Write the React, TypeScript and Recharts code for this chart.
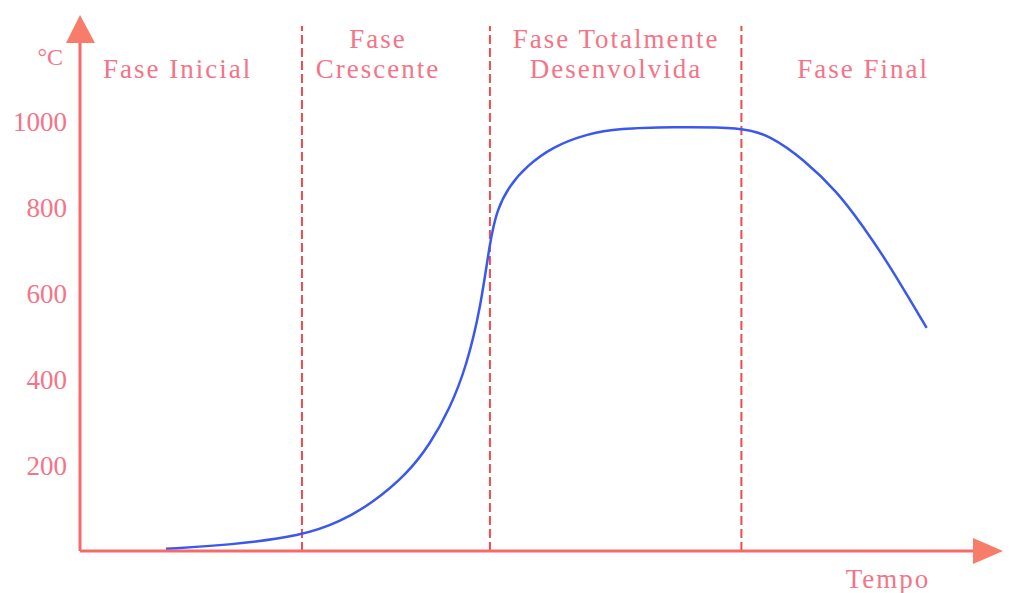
import {
  Line,
  LineChart,
  ReferenceDot,
  ReferenceLine,
  XAxis,
  YAxis,
} from "recharts";

// tempo (arbitrary units 0..100) and temperature (°C)
const tempo = [9.6, 16.8, 24.8, 29.1, 32.7, 36.5, 39.1, 41.3, 43.2, 44.8, 45.8, 46.6, 48.0, 49.9, 52.8, 56.6, 60.3, 66.0, 74.0, 77.1, 80.8, 84.6, 87.5, 90.2, 92.4, 94.6];
const temperatura = [5, 14, 35, 68, 112, 178, 248, 330, 430, 570, 720, 795, 850, 895, 940, 970, 983, 986, 986, 966, 912, 836, 755, 672, 596, 519];

const yTicks = [200, 400, 600, 800, 1000];
const phaseBounds = [24.8, 45.8, 73.9];
const phaseNames = [["Fase Inicial"], ["Fase", "Crescente"], ["Fase Totalmente", "Desenvolvida"], ["Fase Final"]];
const phaseCenters = [10.9, 33.3, 59.9, 87.5];

const Y_TOP = 1221;
const ARROW_BASE = 1177;
const X_MAX = 100;

const AXIS = "#f86a6a";
const ARROW = "#f87c6a";
const TEXT = "#f47488";
const FONT = "'Liberation Serif', 'Times New Roman', serif";

const data = tempo.map((t, i) => ({ t, c: temperatura[i] }));

function PhaseLabel(props: any) {
  const { cx, cy, lines } = props;
  const baselines = lines.length === 1 ? [cy + 33] : [cy + 3, cy + 33];
  return (
    <text x={cx} textAnchor="middle" fill={TEXT} fontSize={27} fontFamily={FONT} letterSpacing={2}>
      {lines.map((l: string, i: number) => (
        <tspan key={i} x={cx} y={baselines[i]}>
          {l}
        </tspan>
      ))}
    </text>
  );
}

function UpArrow(props: any) {
  const { cx, cy } = props;
  return (
    <g>
      <polygon points={`${cx - 14},${cy - 2} ${cx + 15},${cy - 2} ${cx},${cy - 30}`} fill={ARROW} />
      <text x={cx - 17} y={cy + 20} textAnchor="end" fill={TEXT} fontSize={24} fontFamily={FONT}>
        °C
      </text>
    </g>
  );
}

function RightArrow(props: any) {
  const { cx, cy } = props;
  return (
    <g>
      <polygon points={`${cx - 2},${cy - 13} ${cx - 2},${cy + 13} ${cx + 28},${cy}`} fill={ARROW} />
      <text x={cx - 87} y={cy + 37} textAnchor="middle" fill={TEXT} fontSize={27} fontFamily={FONT} letterSpacing={2}>
        Tempo
      </text>
    </g>
  );
}

export default function App() {
  return (
    <div style={{ position: "fixed", left: 0, top: 0, width: 1021, height: 593, background: "#fff" }}>
      <LineChart width={1021} height={593} data={data} margin={{ top: 26, right: 46, left: 0, bottom: 0 }}>
        <XAxis
          type="number"
          dataKey="t"
          domain={[0, X_MAX]}
          tick={false}
          tickLine={false}
          axisLine={{ stroke: AXIS, strokeWidth: 3 }}
          height={42}
          allowDataOverflow
        />
        <YAxis
          type="number"
          domain={[0, Y_TOP]}
          ticks={yTicks}
          tickLine={false}
          tickSize={0}
          tickMargin={13}
          width={80}
          axisLine={{ stroke: AXIS, strokeWidth: 3 }}
          tick={{ fill: TEXT, fontSize: 27, fontFamily: FONT }}
          allowDataOverflow
        />
        {phaseBounds.map((b) => (
          <ReferenceLine key={b} x={b} stroke="#f04a4a" strokeWidth={2} strokeDasharray="9 4" />
        ))}
        {phaseNames.map((lines, i) => (
          <ReferenceDot
            key={i}
            x={phaseCenters[i]}
            y={ARROW_BASE}
            ifOverflow="visible"
            shape={(p: any) => <PhaseLabel {...p} lines={lines} />}
          />
        ))}
        <ReferenceDot x={0} y={ARROW_BASE} ifOverflow="visible" shape={(p: any) => <UpArrow {...p} />} />
        <ReferenceDot x={X_MAX} y={0} ifOverflow="visible" shape={(p: any) => <RightArrow {...p} />} />
        <Line
          type="basis"
          dataKey="c"
          stroke="#3a58ee"
          strokeWidth={2.5}
          dot={false}
          isAnimationActive={false}
        />
      </LineChart>
    </div>
  );
}
